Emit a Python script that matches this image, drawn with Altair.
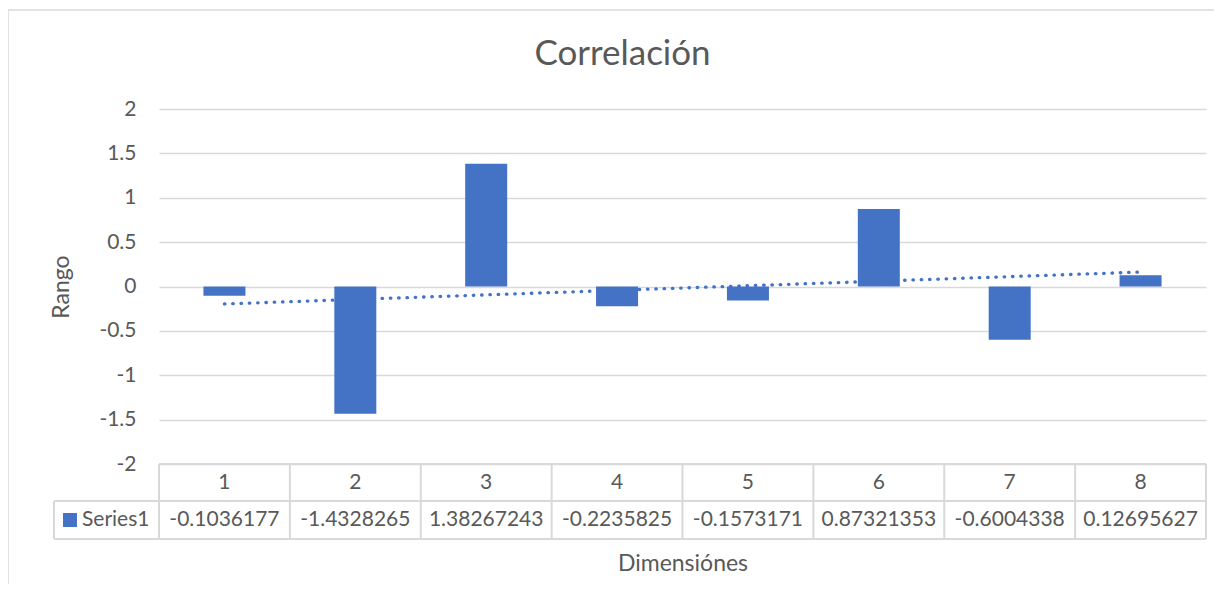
import altair as alt
import pandas as pd

# ---- data ----
dims = [1, 2, 3, 4, 5, 6, 7, 8]
values = [-0.1036177, -1.4328265, 1.38267243, -0.2235825,
          -0.1573171, 0.87321353, -0.6004338, 0.12695627]
series_name = "Series1"
y_ticks = [-2, -1.5, -1, -0.5, 0, 0.5, 1, 1.5, 2]
chart_title = "Correlación"
x_title = "Dimensiónes"
y_title = "Rango"

# ---- styles / layout ----
TEXT = "#595959"
GRID = "#d9d9d9"
BLUE = "#4472C4"
FONT = "Lato"

W, H = 1047, 355
PAD_L, PAD_T, PAD_R, PAD_B = 151, 101, 8, 120
XDOM = [0.5, 8.5]
YDOM = [-2, 2]
PX_X = W / (XDOM[1] - XDOM[0])
PX_Y = H / (YDOM[1] - YDOM[0])


def yu(px_below):
    return YDOM[0] - px_below / PX_Y


def xu(px_left):
    return XDOM[0] - px_left / PX_X


BAR_HALF = 21 / PX_X
ROW1_BOTTOM = yu(37)
ROW2_BOTTOM = yu(75)
CELL_LEFT = xu(105)

df = pd.DataFrame({
    "dim": dims,
    "value": values,
    "label": [str(v) for v in values],
    "cat": [str(d) for d in dims],
})

x_scale = alt.Scale(domain=XDOM, nice=False, zero=False)
y_scale = alt.Scale(domain=YDOM, nice=False, zero=False)

x_axis = alt.Axis(
    labels=False, ticks=False, domain=False, grid=False,
    title=x_title, titleFontSize=23, titleColor=TEXT, titleFont=FONT,
    titleFontWeight="normal", titlePadding=88)
y_axis = alt.Axis(
    values=y_ticks, labelExpr="'' + datum.value", grid=True,
    gridColor=GRID, gridWidth=1.5, domain=False, ticks=False,
    labelPadding=23, labelFontSize=21, labelColor=TEXT, labelFont=FONT,
    title=y_title, titleFontSize=23, titleColor=TEXT, titleFont=FONT,
    titleFontWeight="normal", titlePadding=25)


def X(field):
    return alt.X(field, scale=x_scale, axis=x_axis, title=x_title)


def Y(field):
    return alt.Y(field, scale=y_scale, axis=y_axis, title=y_title)


# border of chart area
border = alt.Chart(pd.DataFrame({"a": [0]})).mark_rect(
    filled=False, stroke=GRID, strokeWidth=1.5
).encode(
    x=alt.value(-PAD_L), x2=alt.value(W + 80),
    y=alt.value(-99), y2=alt.value(H + 300)
)

bars = alt.Chart(df).transform_calculate(
    x0=f"datum.dim - {BAR_HALF}", x1=f"datum.dim + {BAR_HALF}", zero="0"
).mark_bar(color=BLUE).encode(
    x=X("x0:Q"), x2="x1:Q",
    y=Y("value:Q"), y2="zero:Q",
)

trend = alt.Chart(df).transform_regression("dim", "value").mark_line(
    color=BLUE, strokeWidth=3.3, strokeDash=[0.5, 7.8], strokeCap="round"
).encode(
    x=X("dim:Q"),
    y=Y("value:Q"),
)

# table lines
rows = []
for k in range(len(dims) + 1):
    bx = XDOM[0] + k
    rows.append({"x": bx, "x2": bx, "y": YDOM[0], "y2": ROW2_BOTTOM})
rows.append({"x": CELL_LEFT, "x2": CELL_LEFT, "y": ROW1_BOTTOM, "y2": ROW2_BOTTOM})
rows.append({"x": CELL_LEFT, "x2": XDOM[1], "y": ROW1_BOTTOM, "y2": ROW1_BOTTOM})
rows.append({"x": CELL_LEFT, "x2": XDOM[1], "y": ROW2_BOTTOM, "y2": ROW2_BOTTOM})
rows.append({"x": XDOM[0], "x2": XDOM[1], "y": YDOM[0], "y2": YDOM[0]})
lines_df = pd.DataFrame(rows)

table_lines = alt.Chart(lines_df).mark_rule(color=GRID, strokeWidth=2).encode(
    x=X("x:Q"), x2="x2:Q",
    y=Y("y:Q"), y2="y2:Q",
)

text_style = dict(font=FONT, fontSize=21, color=TEXT, baseline="middle")

header = alt.Chart(df).transform_calculate(ty=str(yu(18.5))).mark_text(
    **text_style).encode(
    x=X("dim:Q"),
    y=Y("ty:Q"),
    text="cat:N",
)

vals = alt.Chart(df).transform_calculate(ty=str(yu(55.5))).mark_text(
    **text_style).encode(
    x=X("dim:Q"),
    y=Y("ty:Q"),
    text="label:N",
)

leg_df = pd.DataFrame({"name": [series_name]})
leg_sq = alt.Chart(leg_df).transform_calculate(
    tx=str(xu(89)), ty=str(yu(56))
).mark_square(size=196, color=BLUE, opacity=1, filled=True).encode(
    x=X("tx:Q"),
    y=Y("ty:Q"),
)
leg_tx = alt.Chart(leg_df).transform_calculate(
    tx=str(xu(77)), ty=str(yu(55.5))
).mark_text(align="left", **text_style).encode(
    x=X("tx:Q"),
    y=Y("ty:Q"),
    text="name:N",
)

chart = alt.layer(
    border, bars, trend, table_lines, header, vals, leg_sq, leg_tx
).properties(
    width=W, height=H,
    autosize=alt.AutoSizeParams(type="none"),
    padding={"left": PAD_L, "top": PAD_T, "right": PAD_R, "bottom": PAD_B},
    title=alt.TitleParams(
        chart_title, font=FONT, fontSize=35, color=TEXT, fontWeight="normal",
        anchor="middle", frame="group", dx=-60, offset=-91,
        baseline="alphabetic"),
).configure(font=FONT).configure_view(stroke=None)

chart.save("out.html", embed_options={"renderer": "svg", "actions": False})
